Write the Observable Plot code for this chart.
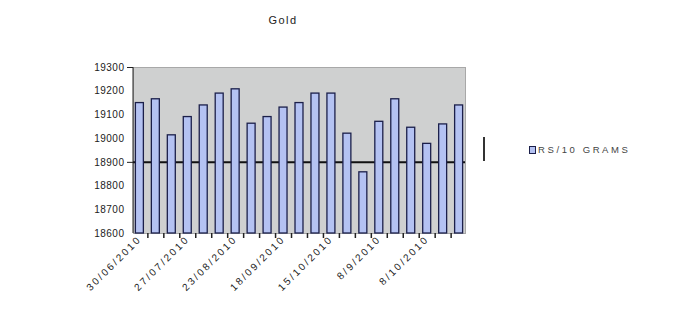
<!DOCTYPE html>
<html>
<head>
<meta charset="utf-8">
<script src="https://cdn.jsdelivr.net/npm/d3@7"></script>
<script src="https://cdn.jsdelivr.net/npm/@observablehq/plot@0.6"></script>
<style>
  html, body { margin: 0; padding: 0; background: #fff; }
  #wrap { position: relative; width: 683px; height: 328px; overflow: hidden; font-family: "Liberation Sans", Arial, sans-serif; }
  #title { position: absolute; left: 0; width: 566px; top: 14px; text-align: center; font-size: 11px; letter-spacing: 1.5px; color: #222; }
  #legend { position: absolute; left: 529px; top: 144px; font-size: 9.5px; letter-spacing: 2.6px; color: #444; display: flex; align-items: center; }
  #legend .sw { width: 5px; height: 6px; background: #b4c2f2; border: 1px solid #1b1f4a; margin-right: 2px; }
  #vbar { position: absolute; left: 483px; top: 137px; width: 2px; height: 24px; background: #333; }
</style>
</head>
<body>
<div id="wrap">
  <div id="title"></div>
  <div id="chart"></div>
  <div id="vbar"></div>
  <div id="legend"><div class="sw"></div><span id="legtext"></span></div>
</div>
<script>
const titleText = "Gold";
const seriesName = "RS/10 GRAMS";
const values = [19150, 19166, 19014, 19091, 19140, 19190, 19208, 19063, 19091, 19131, 19150,
                19190, 19190, 19021, 18858, 19071, 19166, 19046, 18978, 19060, 19140];
const dateLabels = ["30/06/2010", "27/07/2010", "23/08/2010", "18/09/2010", "15/10/2010", "8/9/2010", "8/10/2010"];
const labelEvery = 3;
const yTicks = [18600, 18700, 18800, 18900, 19000, 19100, 19200, 19300];
const refLine = 18900;

document.getElementById("title").textContent = titleText;
document.getElementById("legtext").textContent = seriesName;

const data = values.map((v, i) => ({i, v}));
const idx = d3.range(values.length);

const W = 683, H = 328, mL = 133, mR = 218, mT = 67, mB = 95;
const pIn = 0.5, pOut = 0.15;
const step = (W - mL - mR) / (values.length - pIn + 2 * pOut);

const chart = Plot.plot({
  width: W,
  height: H,
  marginLeft: mL,
  marginRight: mR,
  marginTop: mT,
  marginBottom: mB,
  style: {fontFamily: "Liberation Sans, Arial, sans-serif", fontSize: "10px", color: "#222", background: "transparent"},
  x: {type: "band", domain: idx, paddingInner: pIn, paddingOuter: pOut, round: false, range: [mL, W - mR], axis: null, label: null},
  y: {domain: [18600, 19300], axis: null, label: null},
  marks: [
    Plot.frame({fill: "#cfd0d0", stroke: "#a8a8a8"}),
    Plot.ruleY([refLine], {stroke: "#111", strokeWidth: 2}),
    Plot.barY(data, {x: "i", y1: 18600, y2: "v", fill: "#b4c2f2", stroke: "#1b1f4a", strokeWidth: 1.3}),
    Plot.axisY({ticks: yTicks, tickSize: 0, tickPadding: 9, tickFormat: d => String(d), fontSize: 10, label: null}),
    Plot.axisY({ticks: [18900, 19300], tickSize: 6, tickFormat: () => "", stroke: "#222", label: null}),
    Plot.axisX({ticks: idx.slice(0, -1), tickSize: 5, tickFormat: () => "", dx: step / 2, stroke: "#222", strokeWidth: 1.5, label: null}),
    Plot.axisX({ticks: idx.filter(i => i % labelEvery === 0), tickSize: 0, tickPadding: 4, tickRotate: -45,
      tickFormat: i => dateLabels[i / labelEvery], fontSize: 10, label: null})
  ]
});
chart.style.letterSpacing = "0.5px";
d3.select(chart).selectAll("g[aria-label='x-axis tick label'] text").style("letter-spacing", "2.3px");
document.getElementById("chart").appendChild(chart);
d3.select(chart).append("line")
  .attr("x1", mL).attr("x2", mL).attr("y1", mT).attr("y2", H - mB)
  .attr("stroke", "#222").attr("stroke-width", 1);
</script>
</body>
</html>
